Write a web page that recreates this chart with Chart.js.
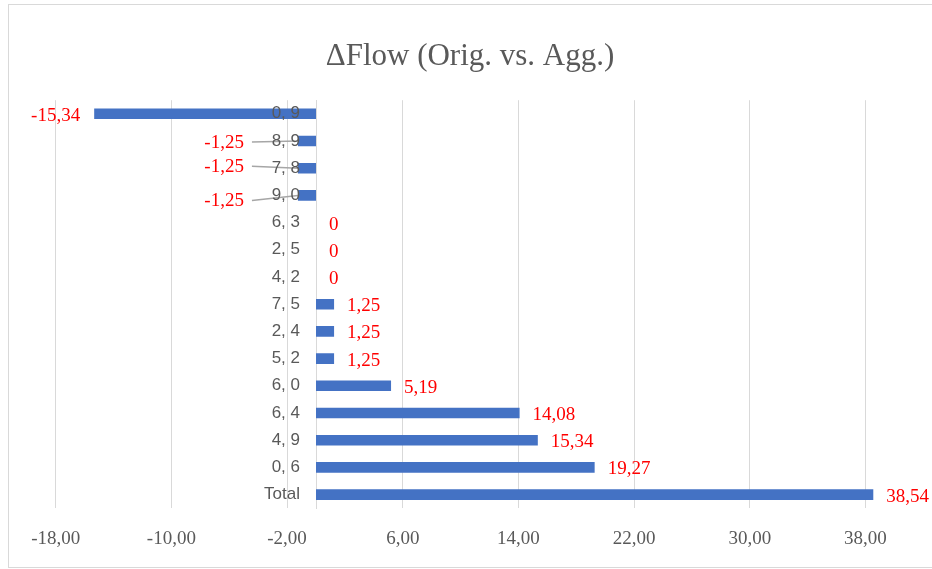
<!DOCTYPE html>
<html lang="en">
<head>
  <meta charset="UTF-8">
  <title>ΔFlow (Orig. vs. Agg.)</title>
  <script src="https://cdn.jsdelivr.net/npm/chart.js"></script>
  <style>
    body {
      margin: 0;
      background: #ffffff;
    }

    .wrap {
      width: 932px;
      height: 569px;
    }
  </style>
</head>

<body>
  <div class="wrap">
    <canvas id="flowChart"></canvas>
  </div>

  <script>
    // Link pairs, top to bottom as in the chart
    const pairs = ['0, 9', '8, 9', '7, 8', '9, 0', '6, 3', '2, 5', '4, 2', '7, 5', '2, 4', '5, 2', '6, 0', '6, 4', '4, 9', '0, 6', 'Total'];
    const deltaFlow = [-15.34, -1.25, -1.25, -1.25, 0, 0, 0, 1.25, 1.25, 1.25, 5.19, 14.08, 15.34, 19.27, 38.54];
    const xTicks = [-18, -10, -2, 6, 14, 22, 30, 38];

    // labels that Excel pushed aside with a leader line: [dx, dy]
    const labelNudge = { 1: [-40, 0], 2: [-40, -3], 3: [-40, 4] };

    const GREY = '#595959';
    const GRID = '#D9D9D9';
    const SERIF = '"Liberation Serif", "Times New Roman", serif';

    // light frame round the whole chart
    const frame = {
      id: 'frame',
      beforeDraw(chart) {
        const ctx = chart.ctx;
        ctx.save();
        ctx.strokeStyle = GRID;
        ctx.lineWidth = 1;
        ctx.strokeRect(8.5, 4.5, chart.width + 20, chart.height - 6);
        ctx.restore();
      }
    };

    // red value labels next to the bars
    const valueLabels = {
      id: 'valueLabels',
      afterDatasetsDraw(chart) {
        const ctx = chart.ctx;
        const meta = chart.getDatasetMeta(0);
        ctx.save();
        ctx.font = '19px ' + SERIF;
        ctx.textBaseline = 'middle';
        meta.data.forEach((bar, i) => {
          const v = deltaFlow[i];
          const txt = String(v).replace('.', ',');
          const nudge = labelNudge[i] || [0, 0];
          const neg = v < 0;
          const x = (neg ? bar.x - 14 : bar.x + 13) + nudge[0];
          const y = bar.y + 2 + nudge[1];
          if (nudge[0]) {
            ctx.strokeStyle = '#A6A6A6';
            ctx.lineWidth = 1.5;
            ctx.beginPath();
            ctx.moveTo(x + 8, y - 1);
            ctx.lineTo(bar.x, bar.y);
            ctx.stroke();
          }
          ctx.fillStyle = '#FF0000';
          ctx.textAlign = neg ? 'right' : 'left';
          ctx.fillText(txt, x, y);
        });
        ctx.restore();
      }
    };

    // category names sit just left of the zero line, over the bars
    const pairLabels = {
      id: 'pairLabels',
      afterDatasetsDraw(chart) {
        const ctx = chart.ctx;
        const yScale = chart.scales.y;
        const x0 = chart.scales.x.getPixelForValue(0) - 16;
        ctx.save();
        ctx.font = '17px "Liberation Sans", Arial, sans-serif';
        ctx.fillStyle = GREY;
        ctx.textAlign = 'right';
        ctx.textBaseline = 'middle';
        pairs.forEach((p, i) => {
          ctx.fillText(p, x0, yScale.getPixelForTick(i));
        });
        ctx.restore();
      }
    };

    new Chart(document.getElementById('flowChart'), {
      type: 'bar',
      data: {
        labels: pairs,
        datasets: [{
          data: deltaFlow,
          backgroundColor: '#4472C4',
          borderWidth: 0,
          categoryPercentage: 1,
          barPercentage: 0.39
        }]
      },
      plugins: [frame, valueLabels, pairLabels],
      options: {
        indexAxis: 'y',
        responsive: true,
        maintainAspectRatio: false,
        animation: false,
        layout: {
          padding: { left: 8, right: 0, top: 4, bottom: 0 }
        },
        plugins: {
          legend: { display: false },
          tooltip: { enabled: false },
          title: {
            display: true,
            text: 'ΔFlow (Orig. vs. Agg.)',
            color: GREY,
            font: { family: SERIF, size: 31, weight: 'normal' },
            padding: { top: 34, bottom: 25 }
          }
        },
        scales: {
          x: {
            type: 'linear',
            min: -21.3,
            max: 42.6,
            afterBuildTicks: scale => {
              scale.ticks = xTicks.map(v => ({ value: v }));
            },
            grid: { color: GRID, drawTicks: false },
            border: { display: false },
            ticks: {
              color: GREY,
              padding: 19,
              maxRotation: 0,
              font: { family: SERIF, size: 19 },
              callback: v => v.toFixed(2).replace('.', ',')
            }
          },
          y: {
            type: 'category',
            position: { x: 0 },
            grid: { display: false },
            border: { display: true, color: GRID, width: 1 },
            ticks: { display: false }
          }
        }
      }
    });
  </script>
</body>
</html>
